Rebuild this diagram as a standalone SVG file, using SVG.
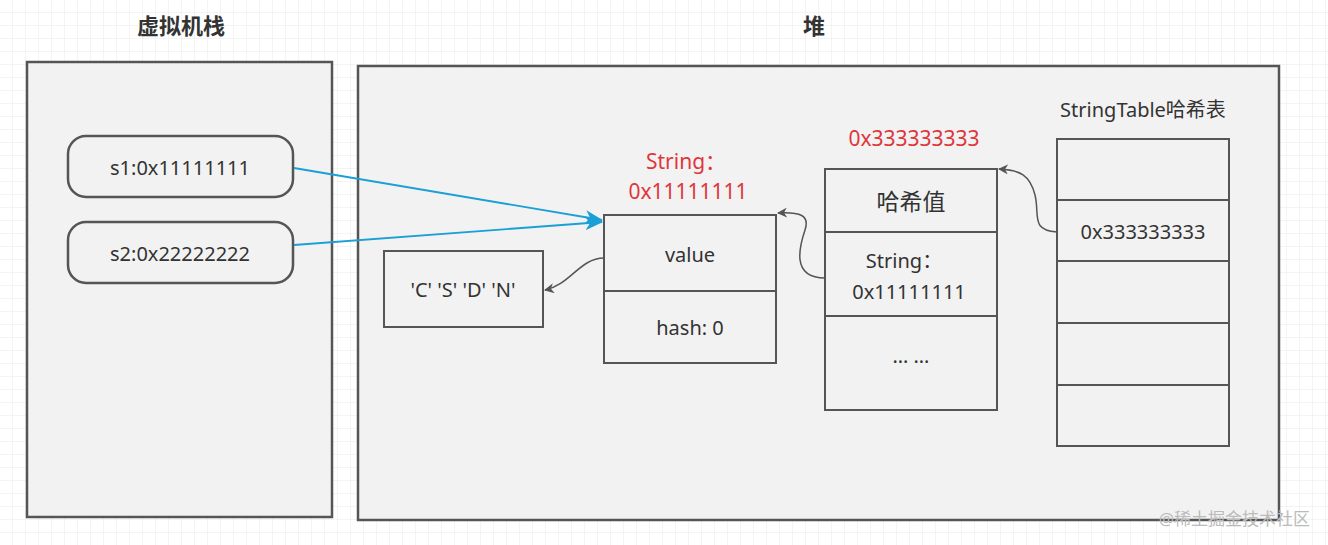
<svg xmlns="http://www.w3.org/2000/svg" width="1328" height="545" viewBox="0 0 1328 545">
<defs>
<pattern id="grid" width="13" height="13" patternUnits="userSpaceOnUse"><path d="M13 0V13H0" fill="none" stroke="#e8e8e8" stroke-width="1"/></pattern>
<marker id="ag" markerWidth="10" markerHeight="10" refX="9" refY="5" orient="auto" markerUnits="userSpaceOnUse"><path d="M0,0 L10,5 L0,10 L3,5Z" fill="#555"/></marker>
<marker id="ab" markerWidth="18" markerHeight="14" refX="17" refY="7" orient="auto" markerUnits="userSpaceOnUse"><path d="M0,0 L18,7 L0,14 L5,7Z" fill="#1a9fd6"/></marker>
</defs>
<style>
.box{fill:#f2f2f2;stroke:#555;stroke-width:2.5}
.cell{fill:#f2f2f2;stroke:#555;stroke-width:2}
.t{font-family:"Noto Sans","Noto Sans CJK SC",sans-serif;font-size:20px;fill:#333;text-anchor:middle}
.r{fill:#e0363b;font-size:21px}
.h{font-weight:bold;font-size:22px}
.c{fill:none;stroke:#555;stroke-width:1.5}
.b{fill:none;stroke:#1a9fd6;stroke-width:1.8}
</style>
<rect width="1328" height="545" fill="#fff"/>
<rect width="1328" height="545" fill="url(#grid)"/>
<text class="t h" x="181" y="34">虚拟机栈</text>
<text class="t h" x="814" y="34">堆</text>
<g id="stack"><rect class="box" x="27" y="62" width="305" height="455"/></g>
<g id="heap"><rect class="box" x="358" y="66" width="921" height="454"/></g>
<g id="s1"><rect class="box" x="68" y="136" width="225" height="61" rx="18"/><text class="t" x="180" y="175">s1:0x11111111</text></g>
<g id="s2"><rect class="box" x="68" y="222" width="225" height="61" rx="18"/><text class="t" x="180" y="261">s2:0x22222222</text></g>
<g id="chars"><rect class="cell" x="384" y="251" width="159" height="76"/><text class="t" x="463" y="297">'C' 'S' 'D' 'N'</text></g>
<g id="string"><text class="t r" x="686" y="169">String：</text><text class="t r" x="688" y="199">0x11111111</text>
<rect class="cell" x="604" y="215" width="172" height="76"/><text class="t" x="690" y="262">value</text>
<rect class="cell" x="604" y="291" width="172" height="72"/><text class="t" x="690" y="335">hash: 0</text></g>
<g id="entry"><text class="t r" x="914" y="146">0x333333333</text>
<rect class="cell" x="825" y="169" width="172" height="63"/><text class="t" x="911" y="210" style="font-size:23px">哈希值</text>
<rect class="cell" x="825" y="232" width="172" height="84"/><text class="t" x="904" y="268">String：</text><text class="t" x="909" y="299">0x11111111</text>
<rect class="cell" x="825" y="316" width="172" height="94"/><text class="t" x="911" y="363">… …</text></g>
<g id="table"><text class="t" x="1143" y="117">StringTable哈希表</text>
<rect class="cell" x="1057" y="139" width="172" height="61"/>
<rect class="cell" x="1057" y="200" width="172" height="61"/><text class="t" x="1143" y="239">0x333333333</text>
<rect class="cell" x="1057" y="261" width="172" height="62"/>
<rect class="cell" x="1057" y="323" width="172" height="62"/>
<rect class="cell" x="1057" y="385" width="172" height="61"/></g>
<g id="connectors">
<path class="b" d="M294,168 L602,220" marker-end="url(#ab)"/>
<path class="b" d="M294,245 L602,222" marker-end="url(#ab)"/>
<path class="c" d="M604,258 C580,258 570,285 545,290" marker-end="url(#ag)"/>
<path class="c" d="M825,278 C790,278 800,245 805,230 C810,215 800,212 778,213" marker-end="url(#ag)"/>
<path class="c" d="M1057,232 C1030,230 1040,215 1035,195 C1030,175 1020,170 999,169" marker-end="url(#ag)"/>
</g>
<text x="1310" y="525" style="font-family:'Noto Sans','Noto Sans CJK SC',sans-serif;font-size:17px;fill:#bbb;text-anchor:end">@稀土掘金技术社区</text>
</svg>
